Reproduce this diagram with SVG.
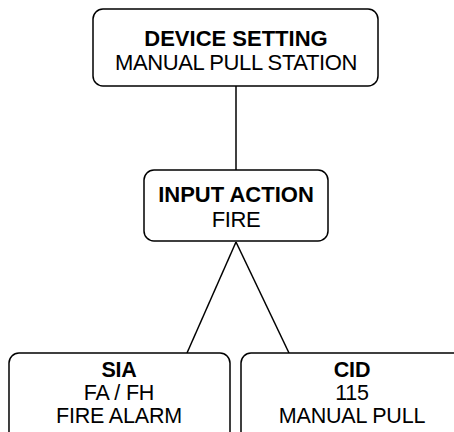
<svg xmlns="http://www.w3.org/2000/svg" width="454" height="432" viewBox="0 0 454 432">
<style>
.box{fill:#fff;stroke:#000;stroke-width:1.5}
.t{font-family:"Liberation Sans",Arial,sans-serif;font-size:22px;text-anchor:middle;fill:#000;letter-spacing:-0.4px}
.b{font-weight:bold;letter-spacing:0}
.s{font-size:21.5px;letter-spacing:-0.2px}
.c{stroke:#000;stroke-width:1.5;fill:none}
</style>
<rect width="454" height="432" fill="#fff"/>
<g id="connectors">
<line class="c" x1="236" y1="86" x2="236" y2="170"/>
<line class="c" x1="236" y1="242" x2="187" y2="353"/>
<line class="c" x1="236" y1="242" x2="289" y2="353"/>
</g>
<g id="device">
<rect class="box" x="93" y="9" width="285" height="77" rx="10"/>
<text class="t b" x="236" y="46">DEVICE SETTING</text>
<text class="t" x="236" y="70">MANUAL PULL STATION</text>
</g>
<g id="input">
<rect class="box" x="144" y="170" width="184" height="71" rx="10"/>
<text class="t b" x="236" y="202">INPUT ACTION</text>
<text class="t" x="236" y="227">FIRE</text>
</g>
<g id="sia">
<rect class="box" x="9" y="353" width="221" height="100" rx="10"/>
<text class="t s b" x="119" y="377">SIA</text>
<text class="t s" x="119" y="400">FA / FH</text>
<text class="t s" x="119" y="423">FIRE ALARM</text>
</g>
<g id="cid">
<rect class="box" x="241" y="353" width="222" height="100" rx="10"/>
<text class="t s b" x="352" y="377">CID</text>
<text class="t s" x="352" y="400">115</text>
<text class="t s" x="352" y="423">MANUAL PULL</text>
</g>
</svg>
